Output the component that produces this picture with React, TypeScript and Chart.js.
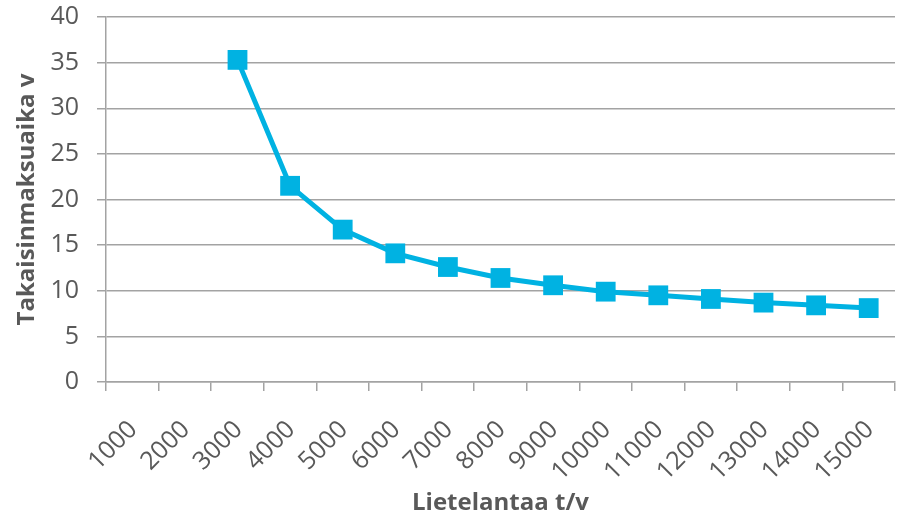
import React, { useEffect, useRef } from "react";
import { Chart, registerables } from "chart.js";

Chart.register(...registerables);

const categories = ["1000", "2000", "3000", "4000", "5000", "6000", "7000", "8000", "9000", "10000", "11000", "12000", "13000", "14000", "15000"];
const paybackYears = [null, null, 35.3, 21.5, 16.7, 14.1, 12.6, 11.4, 10.6, 9.9, 9.5, 9.1, 8.7, 8.4, 8.1];
const xTitle = "Lietelantaa t/v";
const yTitle = "Takaisinmaksuaika v";

const TEXT = "#595959";
const GRID = "#a3a3a3";
const LINE = "#00b2e2";
const FONT = "'Open Sans', 'Noto Sans', sans-serif";

export default function App() {
  const ref = useRef<HTMLCanvasElement | null>(null);

  useEffect(() => {
    document.body.style.margin = "0";
    const canvas = ref.current;
    if (!canvas) return;
    const chart = new Chart(canvas, {
      type: "line",
      data: {
        labels: categories,
        datasets: [
          {
            data: paybackYears,
            borderColor: LINE,
            backgroundColor: LINE,
            borderWidth: 5,
            pointStyle: "rect",
            pointRadius: 14,
            pointHoverRadius: 14,
            pointBorderWidth: 0,
            tension: 0,
            spanGaps: false,
          },
        ],
      },
      options: {
        responsive: false,
        animation: false,
        devicePixelRatio: 1,
        layout: { padding: { top: 17, right: 5, bottom: 0, left: 0 } },
        plugins: {
          legend: { display: false },
          tooltip: { enabled: false },
        },
        scales: {
          x: {
            type: "category",
            offset: true,
            grid: {
              display: true,
              offset: true,
              drawOnChartArea: false,
              drawTicks: true,
              tickLength: 9,
              color: GRID,
              lineWidth: 1.5,
            },
            border: { display: true, color: GRID, width: 1.5 },
            ticks: {
              color: TEXT,
              font: { family: FONT, size: 25 },
              minRotation: 45,
              maxRotation: 45,
              autoSkip: false,
              padding: 24,
              labelOffset: 1,
            },
            title: {
              display: true,
              text: xTitle,
              color: TEXT,
              font: { family: FONT, size: 24, weight: "bold" },
              padding: { top: 0, bottom: 0 },
            },
            afterFit: (scale: any) => {
              scale.height = 136;
              scale.paddingLeft = 0;
              scale.paddingRight = 0;
            },
          },
          y: {
            min: 0,
            max: 40,
            ticks: {
              stepSize: 5,
              color: TEXT,
              font: { family: FONT, size: 25 },
              padding: 18,
            },
            grid: {
              color: GRID,
              lineWidth: 1.5,
              drawTicks: true,
              tickLength: 9,
            },
            border: { display: true, color: GRID, width: 1.5 },
            title: {
              display: true,
              text: yTitle,
              color: TEXT,
              font: { family: FONT, size: 24, weight: "bold" },
              padding: { top: 13, bottom: 0 },
            },
            afterFit: (scale: any) => {
              scale.width = 106;
              scale.paddingTop = 0;
              scale.paddingBottom = 0;
            },
          },
        },
      },
    });
    return () => chart.destroy();
  }, []);

  return (
    <div style={{ width: 909, height: 518 }}>
      <canvas ref={ref} width={909} height={518} style={{ display: "block" }} />
    </div>
  );
}
